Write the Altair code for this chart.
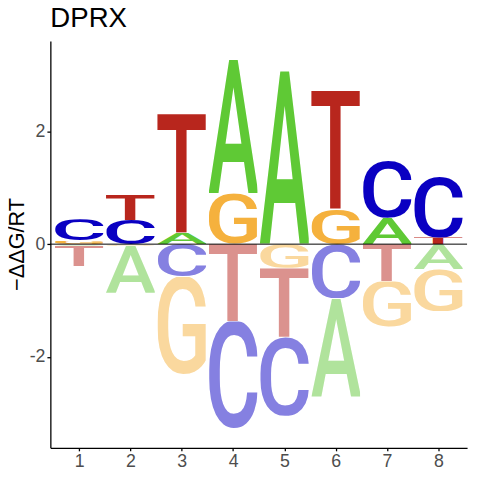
import base64
import altair as alt
import pandas as pd

# ---- data ----
positions = [1, 2, 3, 4, 5, 6, 7, 8]
letters = ["A", "C", "G", "T"]
A_vals = [-0.03, -0.83, 0.20, 2.37, 3.06, -1.74, 0.47, -0.44]
C_vals = [0.38, 0.43, -0.58, -1.90, -1.40, -0.96, 1.02, 1.09]
G_vals = [0.06, -0.03, -1.73, 0.90, -0.42, 0.62, -0.81, -0.75]
T_vals = [-0.36, 0.44, 2.10, -1.37, -1.22, 2.10, -0.66, 0.12]
y_ticks = [-2, 0, 2]
title_text = "DPRX"
y_title = "\u2212\u0394\u0394G/RT"

# ---- styles ----
colors_pos = {"A": "#5FC935", "C": "#0A00C2", "G": "#F5B13D", "T": "#B8261D"}
colors_neg = {"A": "#B0E39C", "C": "#8580E1", "G": "#FAD89E", "T": "#DB928E"}
# approximate ink box of each glyph at font-size 100: (x0, x1, top, bottom)
glyph_box = {
    "A": (0.9, 64.4, 71.1, 0.0),
    "C": (4.3, 61.2, 72.1, 1.0),
    "G": (4.8, 62.3, 72.1, 1.0),
    "T": (2.4, 59.2, 71.1, 0.0),
}
letter_font = "Roboto"
letter_weight = "500"
half_width = 0.475


def glyph_url(letter, color):
    x0, x1, top, bot = glyph_box[letter]
    w = x1 - x0
    h = top + bot
    svg = (
        f'<svg xmlns="http://www.w3.org/2000/svg" viewBox="{x0} {-top} {w} {h}" '
        f'width="{w}" height="{h}" preserveAspectRatio="none">'
        f'<text x="0" y="0" font-family="{letter_font}" font-weight="{letter_weight}" '
        f'font-size="100" fill="{color}">{letter}</text></svg>'
    )
    return "data:image/svg+xml;base64," + base64.b64encode(svg.encode("utf-8")).decode("ascii")


series = {"A": A_vals, "C": C_vals, "G": G_vals, "T": T_vals}
rows = []
for i, p in enumerate(positions):
    vals = {L: series[L][i] for L in letters}
    pos = sorted([L for L in letters if vals[L] > 0], key=lambda L: vals[L])
    neg = sorted([L for L in letters if vals[L] < 0], key=lambda L: -vals[L])
    cum = 0.0
    for L in pos:
        rows.append(dict(position=p, letter=L, value=vals[L], x0=p - half_width, x1=p + half_width,
                         y0=cum, y1=cum + vals[L], url=glyph_url(L, colors_pos[L])))
        cum += vals[L]
    cum = 0.0
    for L in neg:
        rows.append(dict(position=p, letter=L, value=vals[L], x0=p - half_width, x1=p + half_width,
                         y0=cum, y1=cum + vals[L], url=glyph_url(L, colors_neg[L])))
        cum += vals[L]
df = pd.DataFrame(rows)

base_font = "Liberation Sans"
xscale = alt.Scale(domain=[0.44, 8.56], nice=False, zero=False)
yscale = alt.Scale(domain=[-3.61, 3.60], nice=False, zero=False)

xaxis = alt.Axis(values=positions, grid=False, format="d", domainColor="black", domainWidth=1.3,
                 tickColor="black", tickWidth=1.3, tickSize=3, labelColor="#4D4D4D",
                 labelFont=base_font, labelFontSize=18, labelPadding=2, title=None)
yaxis = alt.Axis(values=y_ticks, grid=False, labelExpr="'' + datum.value",
                 domainColor="black", domainWidth=1.3,
                 tickColor="black", tickWidth=1.3, tickSize=3.5, labelColor="#4D4D4D",
                 labelFont=base_font, labelFontSize=18, labelPadding=2,
                 titleFont=base_font, titleFontSize=22, titleFontWeight="normal", titleColor="black",
                 titleAngle=270, titleAlign="center", titleBaseline="middle",
                 titleX=-34, titleY=206)

logo = alt.Chart(df).mark_image(aspect=False).encode(
    x=alt.X("x0:Q", scale=xscale, axis=xaxis),
    x2="x1:Q",
    y=alt.Y("y0:Q", scale=yscale, axis=yaxis, title=y_title),
    y2="y1:Q",
    url="url:N",
)

zero = alt.Chart(pd.DataFrame({"z": [0]})).mark_rule(color="black", strokeWidth=1).encode(
    y=alt.Y("z:Q", scale=yscale)
)

chart = (
    alt.layer(logo, zero)
    .properties(
        width=423,
        height=413,
        title=alt.TitleParams(text=title_text, anchor="start", frame="group", font=base_font,
                              fontSize=28, fontWeight="normal", color="black", offset=8),
        autosize=alt.AutoSizeParams(type="none"),
        padding={"left": 43, "top": 30, "right": 5, "bottom": 21},
    )
    .configure_view(stroke=None)
)

chart.save("out.html", embed_options={"renderer": "svg", "actions": False})
